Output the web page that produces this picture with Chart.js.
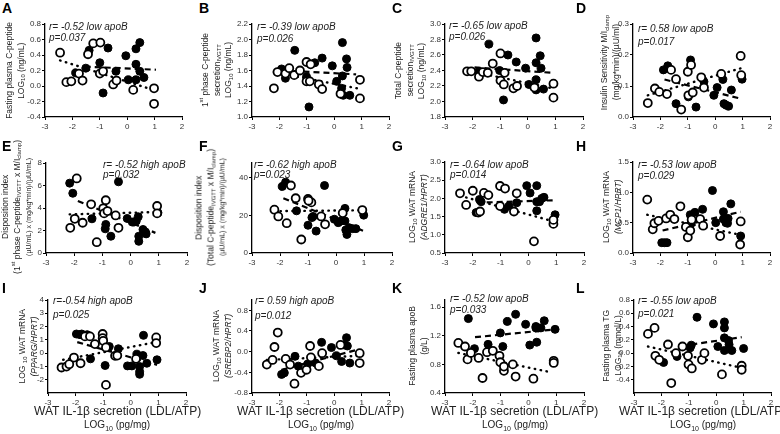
<!DOCTYPE html>
<html>
<head>
<meta charset="utf-8">
<script src="https://cdn.jsdelivr.net/npm/chart.js@4.4.1/dist/chart.umd.min.js"></script>
<style>
    body { margin: 0; width: 780px; height: 434px; position: relative; overflow: hidden; background: #fff;
           font-family: "Liberation Sans", Arial, sans-serif; }
    canvas { position: absolute; }
    .txt { position: absolute; white-space: nowrap; color: #222; }
    .letter { font-weight: bold; font-size: 14px; color: #000; line-height: 14px; }
    .stat { font-style: italic; font-size: 10px; line-height: 11px; }
    .ytitle { position: absolute; white-space: nowrap; text-align: center; color: #222;
              font-size: 8.5px; line-height: 11.5px; writing-mode: vertical-rl; transform: rotate(180deg); }
    .ytitle small { font-size: 7px; }
    .xtitle { position: absolute; white-space: nowrap; color: #222; }
    sub, sup { font-size: 70%; line-height: 0; }
</style>
</head>
<body>
<script>
// x axis is the same in every panel
const xTicks = [-3, -2, -1, 0, 1, 2];

// A - fasting plasma C-peptide
const aTicks = [-0.4, -0.2, 0, 0.2, 0.4, 0.6, 0.8];
const aOpen = [[-2.45,0.43],[-2.22,0.05],[-2.04,0.06],[-1.76,0.16],[-1.63,0.07],[-1.43,0.41],[-1.24,0.55],[-0.98,0.56],[-1.0,0.16],[-0.88,0.19],[-0.51,0.02],[-0.39,0.07],[0.22,-0.05],[0.98,-0.03],[0.98,-0.23]];
const aFilled = [[-1.39,0.46],[-1.88,0.17],[-1.51,0.23],[-1.0,0.30],[-0.70,0.49],[-0.41,0.19],[-0.88,-0.09],[-0.05,0.39],[0.04,0.08],[0.32,0.48],[0.46,0.56],[0.32,0.28],[0.46,0.19],[0.32,0.08],[0.61,0.11]];
const aDash = [[-1.55,0.25],[1.05,0.21]];
const aDot = [[-2.45,0.33],[0.77,-0.03]];

// B - 1st phase C-peptide
const bTicks = [1.0, 1.2, 1.4, 1.6, 1.8, 2.0, 2.2];
const bOpen = [[-2.2,1.37],[-2.07,1.58],[-1.78,1.56],[-1.64,1.63],[-1.46,1.54],[-1.25,1.60],[-1.01,1.71],[-1.01,1.46],[-0.89,1.46],[-0.86,1.68],[-0.56,1.42],[-0.44,1.36],[0.23,1.30],[0.94,1.48],[0.94,1.24]];
const bFilled = [[-1.92,1.62],[-1.78,1.50],[-1.44,1.86],[-1.01,1.52],[-0.71,1.70],[-0.92,1.13],[-0.44,1.76],[-0.07,1.66],[0.09,1.46],[0.30,1.96],[0.30,1.53],[0.27,1.37],[0.33,1.28],[0.45,1.75],[0.47,1.64],[0.57,1.28]];
const bDash = [[-1.85,1.60],[0.8,1.55]];
const bDot = [[-2.2,1.58],[0.85,1.37]];

// C - total C-peptide
const cTicks = [1.8, 2.0, 2.2, 2.4, 2.6, 2.8, 3.0];
const cOpen = [[-2.2,2.39],[-2.05,2.39],[-1.77,2.32],[-1.63,2.38],[-1.45,2.37],[-1.27,2.49],[-0.99,2.62],[-0.99,2.27],[-0.87,2.22],[-0.84,2.37],[-0.52,2.17],[-0.39,2.20],[0.24,2.18],[0.93,2.23],[0.93,2.05]];
const cFilled = [[-1.77,2.39],[-1.41,2.74],[-1.02,2.40],[-0.72,2.60],[-0.42,2.51],[-0.88,2.02],[-0.08,2.43],[0.04,2.22],[0.30,2.82],[0.30,2.50],[0.30,2.28],[0.45,2.59],[0.48,2.43],[0.30,2.15],[0.57,2.16]];
const cDash = [[-1.93,2.44],[0.9,2.37]];
const cDot = [[-2.2,2.40],[0.9,2.17]];

// D - insulin sensitivity
const dTicks = [0, 0.1, 0.2, 0.3];
const dOpen = [[-2.46,0.045],[-2.2,0.092],[-2.04,0.081],[-1.76,0.074],[-1.61,0.152],[-1.43,0.122],[-1.24,0.024],[-1.0,0.146],[-0.88,0.168],[-0.98,0.07],[-0.82,0.079],[-0.51,0.128],[-0.41,0.095],[0.22,0.139],[0.93,0.197],[0.95,0.135]];
const dFilled = [[-1.89,0.152],[-1.73,0.165],[-1.43,0.043],[-0.9,0.184],[-0.98,0.065],[-0.7,0.032],[-0.41,0.114],[-0.05,0.07],[0.07,0.095],[0.28,0.121],[0.32,0.043],[0.40,0.038],[0.49,0.035],[0.59,0.087],[0.98,0.122]];
const dDash = [[-1.85,0.121],[0.89,0.06]];
const dDot = [[-2.46,0.07],[0.93,0.157]];

// E - disposition index (1st phase)
const eTicks = [0, 2, 4, 6, 8];
const eOpen = [[-2.14,2.24],[-1.98,3.04],[-1.91,6.63],[-1.70,2.69],[-1.40,4.33],[-1.2,0.96],[-0.97,3.97],[-0.88,4.69],[-0.94,3.52],[-0.82,3.73],[-0.53,3.34],[-0.43,2.24],[0.94,4.18],[0.94,3.52]];
const eFilled = [[-2.16,6.21],[-2.05,5.31],[-1.37,3.04],[-0.9,2.15],[-0.88,2.54],[-0.70,1.49],[-0.43,6.33],[-0.12,3.07],[0.06,2.75],[0.20,2.84],[0.27,3.22],[0.29,1.49],[0.29,1.04],[0.44,2.09],[0.53,1.85],[0.55,1.70],[0.97,3.58],[0.12,2.75]];
const eDash = [[-1.87,4.63],[0.88,1.79]];
const eDot = [[-2.16,3.43],[0.88,3.64]];

// F - disposition index (total)
const fTicks = [0, 20, 40];
const fOpen = [[-2.2,23.1],[-2.06,19.5],[-1.61,36.0],[-1.76,15.9],[-1.44,29.2],[-1.24,7.2],[-1.0,28.8],[-0.88,27.0],[-0.98,27.9],[-0.53,19.5],[-0.39,15.3],[0.24,21.3],[0.94,22.9]];
const fFilled = [[-1.92,35.5],[-1.8,37.8],[-1.41,22.5],[-1.0,14.8],[-0.86,18.9],[-0.82,19.5],[-0.71,11.7],[-0.41,36.0],[-0.06,18.0],[0.08,16.2],[0.18,17.1],[0.32,23.8],[0.32,17.1],[0.35,12.3],[0.39,9.9],[0.47,13.5],[0.59,13.0],[0.71,13.0],[0.99,20.2]];
const fDash = [[-1.88,29.2],[1.0,11.7]];
const fDot = [[-2.2,22.3],[1.0,22.8]];

// G - ADGRE1
const gTicks = [0.5, 1.0, 1.5, 2.0, 2.5, 3.0];
const gOpen = [[-2.46,2.14],[-2.24,1.82],[-2.0,2.21],[-1.8,1.61],[-1.74,1.64],[-1.6,2.15],[-1.44,2.09],[-1.02,2.34],[-0.84,2.27],[-1.02,1.79],[-0.52,1.64],[-0.42,2.14],[0.2,0.82],[0.9,1.30],[0.9,1.41]];
const gFilled = [[-1.88,1.61],[-1.76,1.97],[-1.7,1.91],[-0.86,1.70],[-0.7,1.79],[-0.42,1.88],[-0.06,2.35],[0.06,2.15],[0.3,2.35],[0.3,1.91],[0.3,1.66],[0.4,1.91],[0.48,2.0],[0.56,2.03],[0.96,1.55]];
const gDash = [[-1.86,1.88],[0.96,1.95]];
const gDot = [[-2.45,2.07],[0.9,1.37]];

// H - MCP1
const hTicks = [0, 0.5, 1.0, 1.5];
const hOpen = [[-2.48,0.88],[-2.28,0.39],[-2.22,0.49],[-2.07,0.53],[-1.79,0.57],[-1.64,0.63],[-1.49,0.56],[-1.27,0.77],[-1.07,0.43],[-1.0,0.26],[-0.91,0.37],[-0.86,0.55],[-0.55,0.56],[-0.44,0.45],[0.18,0.28],[0.93,0.52],[0.91,0.14]];
const hFilled = [[-1.95,0.17],[-1.85,0.17],[-1.76,0.17],[-0.91,0.63],[-0.74,0.67],[-0.46,0.72],[-0.91,0.46],[-0.1,1.03],[0.02,0.50],[0.30,0.68],[0.30,0.56],[0.39,0.50],[0.45,0.49],[0.57,0.81],[0.47,0.57],[0.93,0.28]];
const hDash = [[-1.92,0.37],[0.93,0.68]];
const hDot = [[-2.48,0.63],[0.91,0.30]];

// I - PPARG
const iTicks = [-2, -1, 0, 1, 2, 3, 4];
const iOpen = [[-2.51,-1.08],[-2.33,-1.01],[-2.23,-0.83],[-2.06,-0.33],[-1.82,-0.76],[-1.66,1.26],[-1.48,1.26],[-1.30,0.68],[-1.02,1.44],[-1.02,1.13],[-1.0,0.93],[-0.90,0.43],[-0.57,-0.2],[-0.49,-0.18],[0.19,-0.43],[0.92,1.18],[0.92,0.76],[-0.90,-2.39]];
const iFilled = [[-1.97,1.44],[-1.84,1.39],[-1.78,1.44],[-1.58,1.39],[-1.46,-0.43],[-0.93,-0.93],[-0.78,0.50],[-0.45,0.33],[-0.12,-0.96],[0.04,-0.96],[0.22,-0.08],[0.32,-1.01],[0.32,-1.39],[0.32,-1.59],[0.44,-0.18],[0.46,1.34],[0.58,-0.76],[0.95,-0.5]];
const iDash = [[-1.94,0.83],[0.95,-0.88]];
const iDot = [[-2.45,-0.5],[0.92,0.83]];

// J - SREBP2
const jTicks = [-0.8, -0.4, 0, 0.4, 0.8];
const jOpen = [[-2.46,-0.25],[-2.25,-0.16],[-2.18,0.09],[-2.06,0.37],[-1.77,-0.14],[-1.61,-0.25],[-1.45,-0.62],[-1.21,-0.41],[-1.01,-0.35],[-0.88,0.11],[-0.85,-0.11],[-0.56,-0.28],[-0.44,-0.03],[0.23,0.13],[0.93,-0.03],[0.93,-0.22]];
const jFilled = [[-1.92,-0.44],[-1.82,-0.41],[-1.43,-0.09],[-1.31,-0.28],[-0.97,-0.24],[-0.80,-0.19],[-0.68,-0.22],[-0.46,0.18],[-0.10,0.08],[0.08,-0.08],[0.27,-0.19],[0.45,0.27],[0.48,0.11],[0.36,0.13],[0.57,-0.22]];
const jDash = [[-1.92,-0.35],[0.87,0.04]];
const jDot = [[-2.46,-0.16],[0.93,-0.08]];

// K - fasting plasma apoB
const kTicks = [0.4, 0.8, 1.2, 1.6];
const kOpen = [[-2.52,1.10],[-2.28,1.05],[-2.19,0.87],[-2.07,0.96],[-1.79,0.89],[-1.65,0.61],[-1.49,0.97],[-1.28,0.99],[-1.04,0.92],[-1.01,0.83],[-0.88,0.71],[-0.88,0.77],[-0.56,0.80],[-0.46,0.63],[0.18,0.60],[0.91,0.85],[0.91,0.82]];
const kFilled = [[-2.16,1.44],[-1.94,1.02],[-1.45,1.08],[-1.01,1.24],[-0.92,1.05],[-0.76,1.40],[-0.46,1.50],[-0.10,1.36],[0.05,1.07],[0.27,1.33],[0.27,1.31],[0.30,1.11],[0.35,1.31],[0.45,1.31],[0.57,1.41],[0.96,1.29]];
const kDash = [[-1.92,1.18],[0.99,1.29]];
const kDot = [[-2.52,0.96],[0.81,0.69]];

// L - fasting plasma TG
const lTicks = [-0.4, -0.2, 0, 0.2, 0.4, 0.6, 0.8];
const lOpen = [[-2.49,0.29],[-2.25,0.38],[-2.22,-0.04],[-2.08,-0.10],[-1.76,0.13],[-1.64,-0.45],[-1.47,0.0],[-1.23,0.10],[-1.03,-0.04],[-1.01,-0.17],[-0.89,-0.23],[-0.52,-0.10],[-0.43,0.0],[0.21,-0.32],[0.93,-0.19],[0.93,-0.25]];
const lFilled = [[-1.92,-0.14],[-1.43,-0.05],[-0.91,0.12],[-0.95,0.08],[-0.70,0.54],[-0.10,0.44],[0.06,0.10],[0.30,0.47],[0.30,0.38],[0.30,0.23],[0.30,0.04],[0.45,0.19],[0.47,0.13],[0.57,0.04],[1.0,0.07]];
const lDash = [[-0.91,0.13],[0.93,0.24]];
const lDot = [[-2.49,0.10],[0.91,-0.22]];

// panel layout: plot area rect [left, top, right, bottom] in page pixels
const panels = [
    { letter: 'A', rect: [45, 24, 182, 117], yMin: -0.4, yMax: 0.8, ticks: aTicks, dec: 1, open: aOpen, filled: aFilled, dash: aDash, dot: aDot,
      stat: ['r= -0.52 low apoB', 'p=0.037'], statPos: [49, 26, 37], letterPos: [2, 1],
      title: ['Fasting plasma C-peptide', 'LOG<sub>10</sub> (ng/mL)'], titlePos: [15, 70] },
    { letter: 'B', rect: [252, 24, 389, 117], yMin: 1.0, yMax: 2.2, ticks: bTicks, dec: 1, open: bOpen, filled: bFilled, dash: bDash, dot: bDot,
      stat: ['r= -0.39 low apoB', 'p=0.026'], statPos: [257, 26, 38], letterPos: [199, 1],
      title: ['1<sup>st</sup> phase C-peptide', 'secretion<sub>IVGTT</sub>', 'LOG<sub>10</sub> (ng/mL)'], titlePos: [217, 70] },
    { letter: 'C', rect: [445, 24, 583, 117], yMin: 1.8, yMax: 3.0, ticks: cTicks, dec: 1, open: cOpen, filled: cFilled, dash: cDash, dot: cDot,
      stat: ['r= -0.65 low apoB', 'p=0.026'], statPos: [449, 25, 36], letterPos: [392, 1],
      title: ['Total C-peptide', 'secretion<sub>IVGTT</sub>', 'LOG<sub>10</sub> (ng/mL)'], titlePos: [410, 70] },
    { letter: 'D', rect: [633, 24, 770, 117], yMin: 0, yMax: 0.3, ticks: dTicks, dec: 1, open: dOpen, filled: dFilled, dash: dDash, dot: dDot,
      stat: ['r= 0.58 low apoB', 'p=0.017'], statPos: [638, 28, 41], letterPos: [576, 1],
      title: ['Insulin Sensitivity M/I<sub>clamp</sub>', '(mg/kg*min)/(µU/ml)'], titlePos: [610, 62] },

    { letter: 'E', rect: [46, 163, 187, 253], yMin: 0, yMax: 8, ticks: eTicks, dec: 0, open: eOpen, filled: eFilled, dash: eDash, dot: eDot,
      stat: ['r= -0.52 high apoB', 'p=0.032'], statPos: [103, 164, 174], letterPos: [2, 139],
      title: ['Disposition index', '(1<sup>st</sup> phase C-peptide<sub>IVGTT</sub> x M/I<sub>clamp</sub>)', '<small>(µU/mL) x (mg/kg*min)/(µU/mL)</small>'], titlePos: [18, 207] },
    { letter: 'F', rect: [252, 163, 392, 253], yMin: 0, yMax: 48, ticks: fTicks, dec: 0, open: fOpen, filled: fFilled, dash: fDash, dot: fDot,
      stat: ['r= -0.62 high apoB', 'p=0.023'], statPos: [254, 164, 174], letterPos: [199, 139],
      title: ['Disposition index', '(Total C-peptide<sub>IVGTT</sub> x M/I<sub>clamp</sub>)', '<small>(µU/mL) x (mg/kg*min)/(µU/mL)</small>'], titlePos: [212, 207] },
    { letter: 'G', rect: [445, 162, 584, 253], yMin: 0.5, yMax: 3.0, ticks: gTicks, dec: 1, open: gOpen, filled: gFilled, dash: gDash, dot: gDot,
      stat: ['r= -0.64 low apoB', 'p=0.014'], statPos: [450, 164, 174], letterPos: [392, 139],
      title: ['LOG<sub>10</sub> WAT mRNA', '<i>(ADGRE1/HPRT)</i>'], titlePos: [418, 207] },
    { letter: 'H', rect: [633, 162, 770, 253], yMin: 0, yMax: 1.5, ticks: hTicks, dec: 1, open: hOpen, filled: hFilled, dash: hDash, dot: hDot,
      stat: ['r= -0.53 low apoB', 'p=0.029'], statPos: [638, 164, 175], letterPos: [576, 139],
      title: ['LOG<sub>10</sub> WAT mRNA', '<i>(MCP1/HPRT)</i>'], titlePos: [612, 207] },

    { letter: 'I', rect: [48, 300, 186, 393], yMin: -3, yMax: 4, ticks: iTicks, dec: 0, open: iOpen, filled: iFilled, dash: iDash, dot: iDot,
      stat: ['r=-0.54 high apoB', 'p=0.025'], statPos: [53, 300, 314], letterPos: [2, 281],
      title: ['LOG <sub>10</sub> WAT mRNA', '<i>(PPARG/HPRT)</i>'], titlePos: [28, 346] },
    { letter: 'J', rect: [252, 300, 389, 393], yMin: -0.8, yMax: 1.0, ticks: jTicks, dec: 1, open: jOpen, filled: jFilled, dash: jDash, dot: jDot,
      stat: ['r= 0.59 high apoB', 'p=0.012'], statPos: [255, 300, 315], letterPos: [199, 281],
      title: ['LOG<sub>10</sub> WAT mRNA', '<i>(SREBP2/HPRT)</i>'], titlePos: [222, 346] },
    { letter: 'K', rect: [445, 300, 584, 393], yMin: 0.4, yMax: 1.7, ticks: kTicks, dec: 1, open: kOpen, filled: kFilled, dash: kDash, dot: kDot,
      stat: ['r= -0.52 low apoB', 'p=0.033'], statPos: [450, 298, 309], letterPos: [392, 281],
      title: ['Fasting plasma apoB', '(g/L)'], titlePos: [418, 346] },
    { letter: 'L', rect: [634, 300, 771, 393], yMin: -0.6, yMax: 0.8, ticks: lTicks, dec: 1, open: lOpen, filled: lFilled, dash: lDash, dot: lDot,
      stat: ['r= -0.55 low apoB', 'p=0.021'], statPos: [638, 300, 313], letterPos: [576, 281],
      title: ['Fasting plasma TG', 'LOG<sub>10</sub> (mmol/L)'], titlePos: [612, 346] }
];

const PAD_L = 30, PAD_T = 8, PAD_R = 9, PAD_B = 16;
const tickFont = { family: 'Liberation Sans', size: 8 };

function addDiv(className, html, left, top) {
    const el = document.createElement('div');
    el.className = className;
    el.innerHTML = html;
    el.style.left = left + 'px';
    el.style.top = top + 'px';
    document.body.appendChild(el);
    return el;
}

// put an element so that its centre is at (cx, cy), on whole pixels
function centerAt(el, cx, cy) {
    el.style.left = Math.round(cx - el.offsetWidth / 2) + 'px';
    el.style.top = Math.round(cy - el.offsetHeight / 2) + 'px';
}

function axisStyle() {
    return {
        grid: { display: true, drawOnChartArea: false, drawTicks: true, tickLength: 3, color: '#000', lineWidth: 1 },
        border: { display: true, color: '#000', width: 1.3 }
    };
}

function makePanel(p) {
    const [l, t, r, b] = p.rect;
    const w = r - l + PAD_L + PAD_R;
    const h = b - t + PAD_T + PAD_B;

    const canvas = document.createElement('canvas');
    canvas.width = w;
    canvas.height = h;
    canvas.style.left = (l - PAD_L) + 'px';
    canvas.style.top = (t - PAD_T) + 'px';
    canvas.style.width = w + 'px';
    canvas.style.height = h + 'px';
    document.body.appendChild(canvas);

    new Chart(canvas, {
        type: 'scatter',
        data: {
            datasets: [
                { data: p.open, pointRadius: 4, pointBackgroundColor: '#fff', pointBorderColor: '#000', pointBorderWidth: 1.8, clip: false },
                { data: p.filled, pointRadius: 4, pointBackgroundColor: '#000', pointBorderColor: '#000', pointBorderWidth: 1, clip: false },
                { data: p.dash, showLine: true, pointRadius: 0, borderColor: '#000', borderWidth: 2.2, borderDash: [6, 4] },
                { data: p.dot, showLine: true, pointRadius: 0, borderColor: '#000', borderWidth: 2.4, borderCapStyle: 'round', borderDash: [0.5, 5.5] }
            ]
        },
        options: {
            responsive: false,
            animation: false,
            devicePixelRatio: 1,
            layout: { padding: { left: 0, top: PAD_T, right: PAD_R, bottom: 0 } },
            plugins: { legend: { display: false }, tooltip: { enabled: false } },
            scales: {
                x: {
                    type: 'linear', min: -3, max: 2,
                    afterFit: s => { s.height = PAD_B; },
                    afterBuildTicks: s => { s.ticks = xTicks.map(v => ({ value: v })); },
                    ticks: { font: tickFont, color: '#333', padding: 2, maxRotation: 0, callback: v => String(v) },
                    ...axisStyle()
                },
                y: {
                    type: 'linear', min: p.yMin, max: p.yMax,
                    afterFit: s => { s.width = PAD_L; },
                    afterBuildTicks: s => { s.ticks = p.ticks.map(v => ({ value: v })); },
                    ticks: { font: tickFont, color: '#333', padding: 1, callback: v => Number(v).toFixed(p.dec) },
                    ...axisStyle()
                }
            }
        }
    });

    // texts
    addDiv('txt letter', p.letter, p.letterPos[0], p.letterPos[1]);
    addDiv('txt stat', p.stat[0], p.statPos[0], p.statPos[1] - 5.5);
    addDiv('txt stat', p.stat[1], p.statPos[0], p.statPos[2] - 5.5);
    const title = addDiv('ytitle', p.title.join('<br>'), 0, 0);
    centerAt(title, p.titlePos[0], p.titlePos[1]);
}

panels.forEach(makePanel);

// x axis titles under the bottom row
panels.slice(8).forEach(p => {
    const cx = (p.rect[0] + p.rect[2]) / 2;
    const t1 = addDiv('xtitle', 'WAT IL-1β secretion (LDL/ATP)', 0, 0);
    t1.style.fontSize = '12px';
    centerAt(t1, cx, 411);
    const t2 = addDiv('xtitle', 'LOG<sub>10</sub> (pg/mg)', 0, 0);
    t2.style.fontSize = '10px';
    centerAt(t2, cx, 424);
});
</script>
</body>
</html>
